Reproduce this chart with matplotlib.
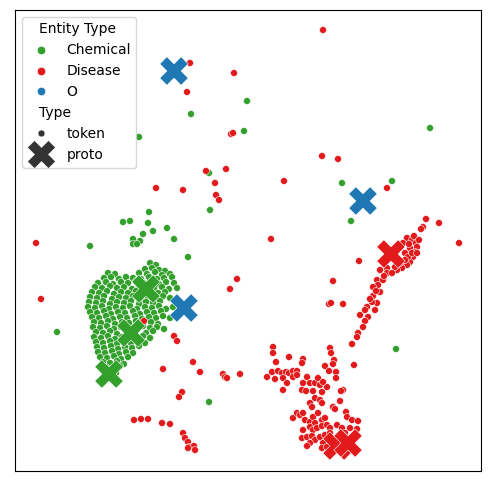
import numpy as np
import pandas as pd
import matplotlib
matplotlib.use("Agg")
import matplotlib.pyplot as plt
import seaborn as sns

# 2-d embedding coordinates (arbitrary units, y grows downward)
chem_tokens = [(191,114),(247,101),(139,137),(244,131),(209,173),(430,128),(342,183),(392,181),(351,221),
               (210,210),(149,212),(130,221),(123,222),(148,223),(167,228),(153,231),(143,234),(133,239),
               (140,241),(133,244),(137,244),(174,239),(188,257),(90,246),(57,332),(396,349),(209,402)]

chem_cluster = [(150,263),(156,265),(145,269),(152,268),(159,270),(165,271),
    (108,273),(115,274),(139,273),(147,274),(155,272),(162,275),(170,274),
    (104,278),(111,277),(119,279),(126,277),(133,278),(141,279),(149,277),(157,279),(164,278),(172,277),
    (98,283),(106,282),(113,284),(121,282),(128,283),(136,281),(144,283),(151,282),(159,284),(166,282),(174,283),
    (95,287),(102,288),(110,286),(117,288),(124,287),(132,289),(139,286),(154,288),(162,287),(169,289),(177,288),
    (92,292),(99,293),(107,291),(114,294),(121,292),(128,293),(136,291),(143,294),(158,293),(165,292),
    (90,297),(97,298),(104,296),(112,299),(119,297),(126,298),(133,296),(141,299),(148,297),(156,298),(163,296),(170,298),
    (89,302),(96,303),(103,301),(110,304),(117,302),(124,303),(131,301),(139,304),(146,302),(153,303),(160,301),
    (88,307),(95,308),(102,306),(109,309),(116,307),(123,308),(130,306),(137,309),(145,307),(152,308),(159,306),(166,309),(173,307),
    (90,312),(97,313),(104,311),(111,314),(118,312),(125,313),(133,311),(140,314),(147,312),(154,313),(161,311),
    (92,317),(99,318),(106,316),(113,319),(120,317),(127,318),(135,316),(142,319),(149,317),(156,318),(163,316),(170,318),
    (94,322),(101,323),(108,321),(115,324),(122,322),(129,323),(136,321),(151,322),(158,324),
    (93,327),(100,328),(107,326),(114,329),(121,327),(143,326),(150,328),(157,327),(164,329),
    (96,332),(103,333),(110,331),(117,334),(146,333),(153,331),
    (94,337),(101,338),(108,336),(115,339),(122,337),(136,338),(143,336),(150,338),
    (96,342),(103,343),(110,341),(117,344),(124,342),(131,343),(138,341),(145,343),
    (97,347),(104,348),(111,346),(118,349),(125,347),(132,348),(139,346),
    (98,352),(105,353),(112,351),(119,354),(126,352),(133,353),
    (100,357),(107,358),(114,356),(121,359),(128,357),
    (103,362),(110,363),(117,361),(124,364),
    (106,367),(113,368),(120,366),(108,372),(116,373),(112,378)]

dis_tokens = [(323,30),(190,63),(187,92),(234,73),(231,134),(233,133),(322,156),(206,171),(226,169),(284,181),
              (156,188),(183,190),(215,183),(216,195),(219,200),(338,159),(387,188),(426,219),(439,223),(423,227),
              (421,229),(459,243),(36,243),(41,299),(271,239),(237,279),(230,289),(333,281),(359,261),(329,304),
              (331,303),(343,304),(144,321),(174,336),(177,341),(193,362),(163,369),(200,372),(223,374),(225,377),
              (227,378),(240,374),(182,392),(179,397),(134,420),(141,419),(148,419),(162,423),(170,424),(183,433),
              (185,438),(188,442),(189,447),(194,446),(188,448),(195,450)]

dis_arm = [(407,238),(412,240),(416,243),(417,247),(415,252),(413,257),(410,262),(407,265),(402,268),(400,263),
           (405,253),(410,248),(403,243),(408,257),(397,270),(395,267),(387,268),(405,260),(412,253),(417,253),
           (409,244),(414,236),(419,240),
           (380,270),(387,273),(392,273),(377,280),(383,280),(378,285),(373,287),(380,292),(373,296),(377,303),
           (372,302),(367,307),(375,310),(365,310),(360,315),(368,317),(365,321),(363,327),(358,333),(357,337),
           (352,344),(384,276),(376,291),(370,299)]

dis_cluster = [(273,347),(273,353),(289,357),(276,362),(303,359),(302,363),(330,348),(331,353),(334,360),(333,364),
    (325,366),(354,365),(329,371),(336,372),(336,378),
    (267,377),(272,372),(275,379),(278,371),(282,373),(286,372),(289,373),(293,371),(297,371),(283,378),
    (287,383),(283,390),(293,377),(297,375),
    (307,377),(303,383),(310,383),(315,383),(320,385),(327,387),(302,390),(306,391),(313,391),(322,392),
    (318,378),(323,382),(343,390),(341,391),(340,401),(310,403),(312,407),(315,398),(320,400),(322,403),
    (333,407),(335,409),
    (293,418),(297,413),(300,415),(303,413),(305,420),(310,422),(313,417),(318,413),(322,420),(325,418),
    (315,423),(310,427),(313,430),(317,428),(322,426),(327,425),(330,428),(337,425),(342,428),(346,412),
    (347,417),(352,420),(358,421),(350,428),(357,429),(303,430),(302,438),(307,437),(312,436),(315,440),
    (310,443),(320,437),(325,435),(330,433),(323,443),(307,446),(322,448),(327,447),(332,442),(330,453),
    (350,450),(340,436),(345,433),(355,437)]

chem_protos = [(146,289),(131,333),(109,374)]
dis_protos = [(391,254),(337,446),(348,443)]
o_protos = [(174,71),(184,308),(363,201)]

palette = {"Chemical": "#33a02c", "Disease": "#e31a1c", "O": "#1f78b4"}

rows = []
for pts, ent in [(chem_tokens + chem_cluster, "Chemical"), (dis_tokens + dis_arm + dis_cluster, "Disease")]:
    for x, y in pts:
        rows.append((x, y, ent, "token"))
for pts, ent in [(chem_protos, "Chemical"), (dis_protos, "Disease"), (o_protos, "O")]:
    for x, y in pts:
        rows.append((x, y, ent, "proto"))
df = pd.DataFrame(rows, columns=["x", "y", "Entity Type", "Type"])

fig = plt.figure(figsize=(4.89, 4.86), dpi=100)
ax = fig.add_axes([15/489, 1-471/486, 466/489, 461/486])
sns.scatterplot(data=df, x="x", y="y", hue="Entity Type", hue_order=["Chemical", "Disease", "O"],
                palette=palette, size="Type", sizes={"token": 25, "proto": 420},
                style="Type", markers={"token": "o", "proto": "X"}, ax=ax)
ax.set_xlim(15, 481)
ax.set_ylim(471, 10)
ax.set_xticks([])
ax.set_yticks([])
ax.set_xlabel("")
ax.set_ylabel("")
leg = ax.legend(loc="upper left")

# subtitles sit flush left, like seaborn's own legend
for col in leg._legend_handle_box.get_children():
    for row in col.get_children():
        da, ta = row.get_children()
        if ta.get_children()[0].get_text() in ("Entity Type", "Type"):
            da.set_width(0)
fig.savefig("out.png", dpi=100)
